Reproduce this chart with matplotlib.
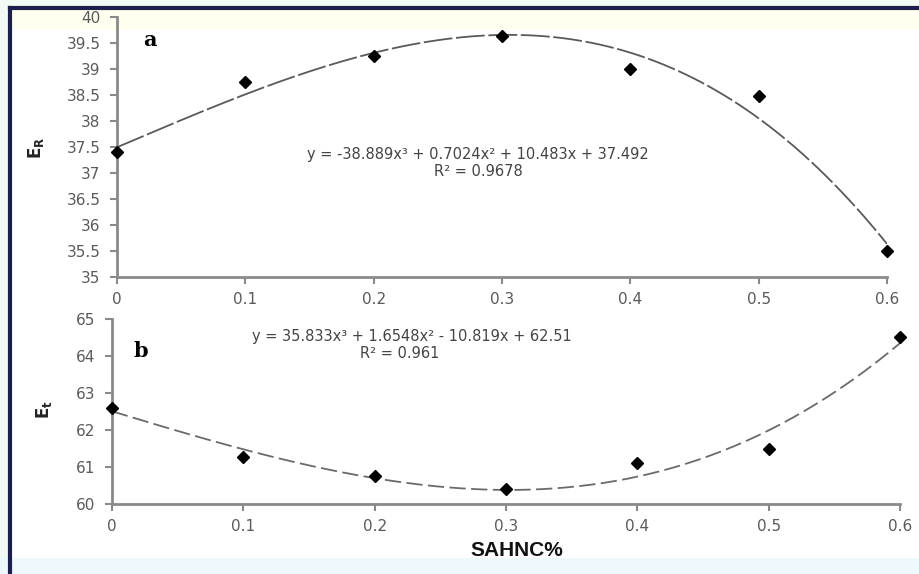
import numpy as np
import matplotlib
matplotlib.use("Agg")
import matplotlib.pyplot as plt
from matplotlib.patches import Rectangle
from matplotlib.lines import Line2D

# data
x_vals = [0, 0.1, 0.2, 0.3, 0.4, 0.5, 0.6]
er_vals = [37.4, 38.75, 39.25, 39.62, 38.99, 38.48, 35.49]
et_vals = [62.6, 61.27, 60.75, 60.4, 61.12, 61.5, 64.53]
er_coef = [-38.889, 0.7024, 10.483, 37.492]
et_coef = [35.833, 1.6548, -10.819, 62.51]
er_ticks = [35, 35.5, 36, 36.5, 37, 37.5, 38, 38.5, 39, 39.5, 40]
et_ticks = [60, 61, 62, 63, 64, 65]
x_ticks = [0, 0.1, 0.2, 0.3, 0.4, 0.5, 0.6]
er_eq = "y = -38.889x\u00b3 + 0.7024x\u00b2 + 10.483x + 37.492"
er_r2 = "R\u00b2 = 0.9678"
et_eq = "y = 35.833x\u00b3 + 1.6548x\u00b2 - 10.819x + 62.51"
et_r2 = "R\u00b2 = 0.961"

W, H = 919, 574
fig = plt.figure(figsize=(W/100, H/100), dpi=100)
fig.patch.set_facecolor("#f3f9f3")

def fx(px):
    return px / W

def fy(py):
    return 1 - py / H

# background frame
fig.patches.append(Rectangle((fx(10), fy(558)), 1, fy(8) - fy(558), transform=fig.transFigure,
                             facecolor="white", edgecolor="none", zorder=-3))
fig.patches.append(Rectangle((fx(10), fy(30)), 1, fy(10) - fy(30), transform=fig.transFigure,
                             facecolor="#fffff0", edgecolor="none", zorder=-2))
fig.patches.append(Rectangle((0, 0), 1, fy(558), transform=fig.transFigure,
                             facecolor="#eef8fc", edgecolor="none", zorder=-2))
fig.lines.append(Line2D([fx(10), fx(10)], [0, fy(8)], transform=fig.transFigure,
                        color="#1c1f4a", lw=3))
fig.lines.append(Line2D([fx(10), 1], [fy(8), fy(8)], transform=fig.transFigure,
                        color="#1c1f4a", lw=3))

tick_col = "#5a5a5a"
spine_col = "#8a8a8a"

def style(ax):
    ax.set_facecolor("none")
    for s in ["top", "right"]:
        ax.spines[s].set_visible(False)
    for s in ["left", "bottom"]:
        ax.spines[s].set_color(spine_col)
        ax.spines[s].set_linewidth(2)
    ax.tick_params(axis="both", direction="out", colors=spine_col, width=1.5, length=5,
                   labelcolor=tick_col, labelsize=11)
    ax.tick_params(axis="x", pad=6)
    ax.tick_params(axis="y", pad=7)
    ax.set_xlim(0, 0.6)
    ax.set_xticks(x_ticks)
    ax.set_xticklabels([("%g" % v) for v in x_ticks])

xs = np.linspace(0, 0.6, 200)

# top panel
ax1 = fig.add_axes([fx(117), fy(277), fx(887) - fx(117), fy(16.7) - fy(277)])
style(ax1)
ax1.set_ylim(35, 40)
ax1.set_yticks(er_ticks)
ax1.set_yticklabels([("%g" % v) for v in er_ticks])
ax1.plot(xs, np.polyval(er_coef, xs), color="#5a5a5a", lw=1.3, dashes=(16, 2), zorder=2)
ax1.plot(x_vals, er_vals, "D", color="black", ms=6, zorder=3, clip_on=False)
ax1.text(0.0425, 0.95, "a", transform=ax1.transAxes, fontsize=15, fontweight="bold",
         family="DejaVu Serif", va="top", ha="center")
fig.text(fx(478), fy(155), er_eq, ha="center", va="center", fontsize=10.5, color="#444444")
fig.text(fx(478), fy(172), er_r2, ha="center", va="center", fontsize=10.5, color="#444444")
fig.text(fx(36), fy(148), "$\\mathbf{E}_{\\mathbf{R}}$", rotation=90, ha="center", va="center",
         fontsize=12, color="#222222")

# bottom panel
ax2 = fig.add_axes([fx(112), fy(504), fx(900) - fx(112), fy(319.3) - fy(504)])
style(ax2)
ax2.set_ylim(60, 65)
ax2.set_yticks(et_ticks)
ax2.set_yticklabels([("%g" % v) for v in et_ticks])
ax2.plot(xs, np.polyval(et_coef, xs), color="#6a6a6a", lw=1.3, dashes=(9, 3), zorder=2)
ax2.plot(x_vals, et_vals, "D", color="black", ms=6, zorder=3, clip_on=False)
ax2.text(0.036, 0.88, "b", transform=ax2.transAxes, fontsize=15, fontweight="bold",
         family="DejaVu Serif", va="top", ha="center")
fig.text(fx(412), fy(337), et_eq, ha="center", va="center", fontsize=10.5, color="#444444")
fig.text(fx(400), fy(353), et_r2, ha="center", va="center", fontsize=10.5, color="#444444")
fig.text(fx(44), fy(410), "$\\mathbf{E}_{\\mathbf{t}}$", rotation=90, ha="center", va="center",
         fontsize=12, color="#222222")

fig.text(fx(517), fy(551), "SAHNC%", ha="center", va="center", fontsize=15,
         fontweight="bold", family="Liberation Sans", color="#111111")

fig.savefig("out.png", dpi=100)
